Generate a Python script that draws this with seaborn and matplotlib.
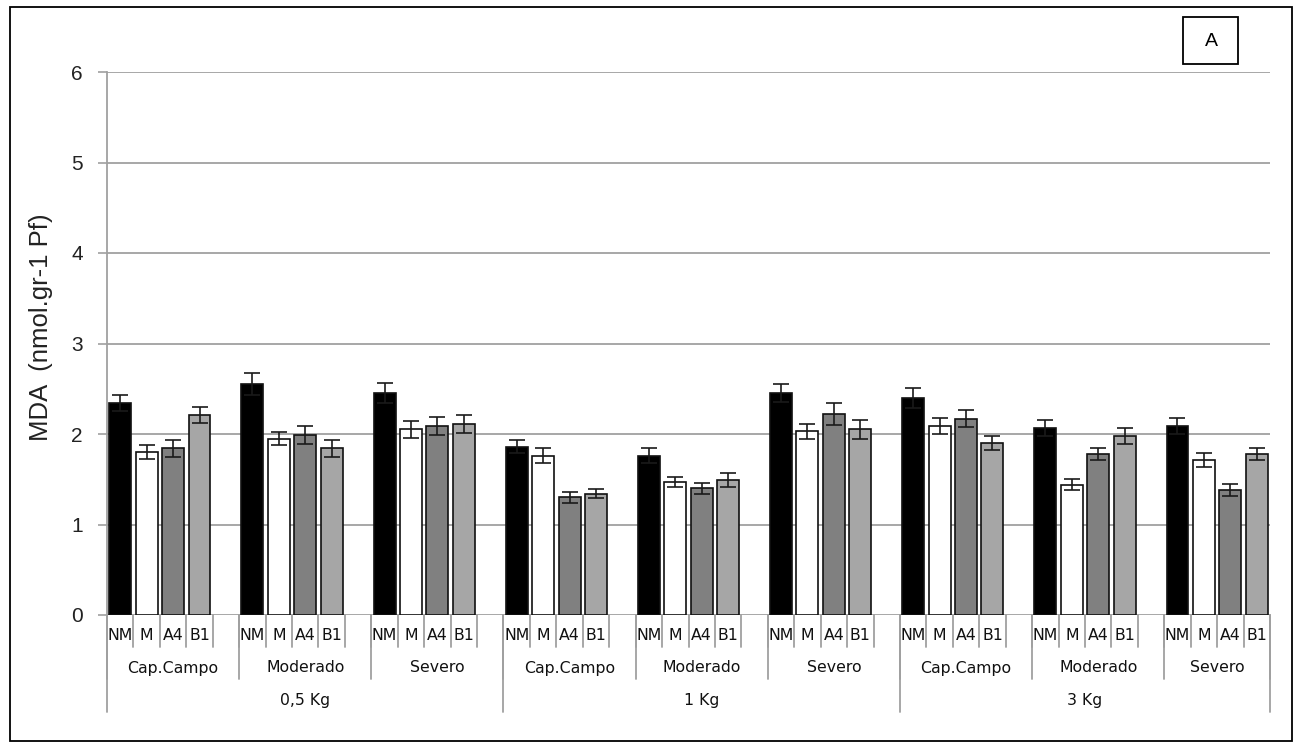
import numpy as np
import pandas as pd
import seaborn as sns
import matplotlib
matplotlib.use("Agg")
import matplotlib.pyplot as plt
from matplotlib.patches import Rectangle
from matplotlib.transforms import blended_transform_factory

# ---- data -------------------------------------------------------------
doses = ["0,5 Kg", "1 Kg", "3 Kg"]
levels = ["Cap.Campo", "Moderado", "Severo"]
treatments = ["NM", "M", "A4", "B1"]

# MDA means, ordered dose -> water level -> treatment
mda_05 = [2.34, 1.80, 1.84, 2.21,
          2.55, 1.95, 1.99, 1.84,
          2.45, 2.05, 2.09, 2.11]
mda_1 = [1.86, 1.76, 1.30, 1.34,
         1.76, 1.47, 1.40, 1.49,
         2.45, 2.03, 2.22, 2.05]
mda_3 = [2.40, 2.09, 2.17, 1.90,
         2.07, 1.44, 1.78, 1.98,
         2.09, 1.71, 1.38, 1.78]

err_05 = [0.09, 0.08, 0.09, 0.09,
          0.12, 0.07, 0.10, 0.09,
          0.11, 0.09, 0.10, 0.10]
err_1 = [0.07, 0.08, 0.06, 0.05,
         0.08, 0.06, 0.06, 0.08,
         0.10, 0.08, 0.12, 0.10]
err_3 = [0.11, 0.09, 0.09, 0.08,
         0.09, 0.06, 0.07, 0.09,
         0.09, 0.08, 0.07, 0.07]

y_ticks = [0, 1, 2, 3, 4, 5, 6]
y_label = "MDA  (nmol.gr-1 Pf)"
panel_tag = "A"

bar_colors = {"NM": "#000000", "M": "#FFFFFF", "A4": "#808080", "B1": "#A6A6A6"}

# ---- long table ---------------------------------------------------------
rows = []
for dose, vals, errs in zip(doses, [mda_05, mda_1, mda_3], [err_05, err_1, err_3]):
    k = 0
    for lev in levels:
        for tr in treatments:
            rows.append(dict(dose=dose, level=lev, treatment=tr,
                             slot=f"{dose}|{lev}|{tr}", mda=vals[k], err=errs[k]))
            k += 1
df = pd.DataFrame(rows)

# category slots: each water level gets an empty spacer slot after B1,
# except the very last group on the axis
order = []
for di, dose in enumerate(doses):
    for li, lev in enumerate(levels):
        for tr in treatments:
            order.append(f"{dose}|{lev}|{tr}")
        if not (di == len(doses) - 1 and li == len(levels) - 1):
            order.append(f"{dose}|{lev}|gap")
n_slots = len(order)

# ---- figure -------------------------------------------------------------
W, H = 1296, 743
fig = plt.figure(figsize=(W / 100, H / 100), dpi=100)
sns.set_style("white")
plt.rcParams["font.family"] = ["Liberation Sans", "DejaVu Sans"]

ax_left, ax_right, ax_top, ax_bottom = 107, 1270, 72, 615
ax = fig.add_axes([ax_left / W, 1 - ax_bottom / H,
                   (ax_right - ax_left) / W, (ax_bottom - ax_top) / H])

grid_c = "#A0A0A0"
for t in y_ticks:
    ax.axhline(t, color=grid_c, lw=1.3, zorder=0)

sns.barplot(data=df, x="slot", y="mda", hue="treatment", order=order,
            hue_order=treatments, palette=bar_colors, dodge=False,
            width=0.83, edgecolor="#111111", linewidth=1.2,
            errorbar=None, legend=False, ax=ax, zorder=2)

xpos = [order.index(s) for s in df["slot"]]
ax.errorbar(xpos, df["mda"], yerr=df["err"], fmt="none", ecolor="#1a1a1a",
            elinewidth=1.2, capsize=5.5, capthick=1.2, zorder=3)

ax.set_xlim(-0.5, n_slots - 0.5)
ax.set_ylim(0, 6)
ax.set_yticks(y_ticks)
ax.set_yticklabels([str(t) for t in y_ticks], fontsize=15, color="#222222")
ax.tick_params(axis="y", length=6.5, width=1.2, color=grid_c, pad=11, left=True)
ax.set_xticks([])
ax.set_xlabel("")
ax.set_ylabel("")
for side in ["top", "right", "bottom"]:
    ax.spines[side].set_visible(False)
ax.spines["left"].set_color(grid_c)
ax.spines["left"].set_linewidth(1.3)

fig.text(41 / W, 1 - 327 / H, y_label, rotation=90, ha="center", va="center",
         fontsize=18.5, color="#222222")

# ---- multi-level category axis -------------------------------------------
ax_h = ax_bottom - ax_top
def frac(py):
    return (ax_bottom - py) / ax_h

tr = blended_transform_factory(ax.transData, ax.transAxes)
y_row1, y_row2, y_row3 = frac(635), frac(668), frac(701)
y_sep1, y_sep2, y_sep3 = frac(647), frac(679), frac(712)
cat_font = dict(family="DejaVu Sans", fontsize=11.3, color="#111111")

def vline(x, y_end):
    ax.plot([x, x], [0, y_end], transform=tr, color=grid_c, lw=1.3,
            clip_on=False, zorder=1)

# treatment labels and slot separators
for i, s in enumerate(order):
    name = s.split("|")[2]
    if name != "gap":
        ax.text(i, y_row1, name, transform=tr, ha="center", va="center", **cat_font)
for b in range(n_slots + 1):
    vline(b - 0.5, y_sep1)

# water-level labels and separators
lev_starts = [i for i, s in enumerate(order) if s.endswith("|NM")]
lev_bounds = lev_starts + [n_slots]
for j in range(len(lev_starts)):
    a, b = lev_bounds[j], lev_bounds[j + 1]
    lev = order[a].split("|")[1]
    ax.text((a + b - 1) / 2, y_row2, lev, transform=tr, ha="center",
            va="center", **cat_font)
    vline(a - 0.5, y_sep2)
vline(n_slots - 0.5, y_sep2)

# dose labels and separators
dose_starts = [lev_starts[k] for k in range(0, len(lev_starts), len(levels))]
dose_bounds = dose_starts + [n_slots]
for j, dose in enumerate(doses):
    a, b = dose_bounds[j], dose_bounds[j + 1]
    ax.text((a + b - 1) / 2, y_row3, dose, transform=tr, ha="center",
            va="center", **cat_font)
    vline(a - 0.5, y_sep3)
vline(n_slots - 0.5, y_sep3)

# ---- frame and panel tag ----------------------------------------------------
fig.patches.append(Rectangle((10 / W, 1 - 741 / H), (1292 - 10) / W, (741 - 7) / H,
                             transform=fig.transFigure, fill=False,
                             edgecolor="#000000", lw=1.3))
fig.patches.append(Rectangle((1183 / W, 1 - 64 / H), (1238 - 1183) / W, (64 - 17) / H,
                             transform=fig.transFigure, fill=False,
                             edgecolor="#000000", lw=1.3))
fig.text(1211 / W, 1 - 41 / H, panel_tag, ha="center", va="center",
         fontsize=14, color="#000000")

fig.savefig("out.png", dpi=100)
